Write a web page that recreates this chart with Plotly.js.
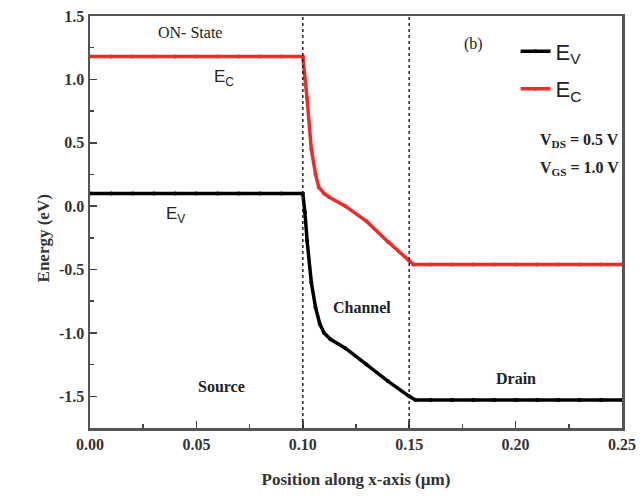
<!DOCTYPE html>
<html><head><meta charset="utf-8">
<script src="https://cdn.plot.ly/plotly-3.0.1.min.js"></script>
<style>body{margin:0;background:#fff}</style>
</head><body><div id="plot" style="width:643px;height:497px"></div>
<script>
// Conduction band E_C (eV) vs position (µm)
const ecX = [0.000, 0.010, 0.020, 0.030, 0.040, 0.050, 0.060, 0.070, 0.080, 0.090, 0.100, 0.102, 0.104, 0.106, 0.1075, 0.110, 0.1125, 0.120, 0.130, 0.140, 0.150, 0.152, 0.160, 0.170, 0.180, 0.190, 0.200, 0.210, 0.220, 0.230, 0.240, 0.250];
const ecY = [1.18, 1.18, 1.18, 1.18, 1.18, 1.18, 1.18, 1.18, 1.18, 1.18, 1.18, 0.85, 0.45, 0.25, 0.15, 0.10, 0.07, 0.00, -0.12, -0.28, -0.43, -0.46, -0.46, -0.46, -0.46, -0.46, -0.46, -0.46, -0.46, -0.46, -0.46, -0.46];
// Valence band E_V
const evX = [0.000, 0.010, 0.020, 0.030, 0.040, 0.050, 0.060, 0.070, 0.080, 0.090, 0.100, 0.101, 0.102, 0.104, 0.106, 0.108, 0.110, 0.113, 0.120, 0.130, 0.140, 0.150, 0.153, 0.160, 0.170, 0.180, 0.190, 0.200, 0.210, 0.220, 0.230, 0.240, 0.250];
const evY = [0.10, 0.10, 0.10, 0.10, 0.10, 0.10, 0.10, 0.10, 0.10, 0.10, 0.10, -0.05, -0.27, -0.60, -0.80, -0.93, -1.00, -1.05, -1.12, -1.25, -1.38, -1.50, -1.53, -1.53, -1.53, -1.53, -1.53, -1.53, -1.53, -1.53, -1.53, -1.53, -1.53];
const regionBounds = [0.10, 0.15];
const xTicks = [0.00, 0.05, 0.10, 0.15, 0.20, 0.25];
const yTicks = [-1.5, -1.0, -0.5, 0.0, 0.5, 1.0, 1.5];

const serif = 'Liberation Serif, Times New Roman, serif';
const sans = 'Liberation Sans, Arial, sans-serif';
const traces = [
  {x: evX, y: evY, name: 'E<sub>V</sub>', legendgroup: 'v', mode: 'lines+markers', line: {color: '#000', width: 3.5}, marker: {color: '#000', size: 4}},
  {x: ecX, y: ecY, name: 'E<sub>C</sub>', legendgroup: 'c', mode: 'lines+markers', line: {color: '#ee2a2a', width: 3.5}, marker: {color: '#ee2a2a', size: 4}}
];
const shapes = regionBounds.map(v => ({type: 'line', xref: 'x', yref: 'paper', x0: v, x1: v, y0: 0, y1: 1, line: {color: '#222', width: 1.5, dash: 'dot'}}));
const ann = (x, y, text, size, extra) => Object.assign({x, y, xref: 'x', yref: 'y', text, showarrow: false, font: {family: serif, size: size || 15, color: '#222'}}, extra || {});
const layout = {
  width: 643, height: 497,
  margin: {l: 90, r: 21, t: 16, b: 69},
  paper_bgcolor: '#fff', plot_bgcolor: '#fff',
  showlegend: true,
  legend: {x: 0.80, y: 0.965, xanchor: 'left', yanchor: 'top', font: {family: sans, size: 22, color: '#222'}, bgcolor: 'rgba(0,0,0,0)', itemwidth: 30, tracegroupgap: 6},
  xaxis: {range: [0, 0.25], tickvals: xTicks, ticktext: xTicks.map(v => v.toFixed(2)), ticks: 'inside', ticklen: 7, tickwidth: 1.5, tickcolor: '#444',
    minor: {ticks: 'inside', dtick: 0.025, ticklen: 4, tickcolor: '#444'},
    showline: true, linecolor: '#555', linewidth: 2.5, mirror: true, showgrid: false, zeroline: false,
    tickfont: {family: serif, size: 16, color: '#333', weight: 'bold'},
    title: {text: '<b>Position along x-axis (µm)</b>', font: {family: serif, size: 17, color: '#333'}, standoff: 22}},
  yaxis: {range: [-1.75, 1.5], tickvals: yTicks, ticktext: yTicks.map(v => v === 0 ? '0.0' : (v < 0 ? '-' + Math.abs(v).toFixed(1) : v.toFixed(1))), ticks: 'inside', ticklen: 7, tickwidth: 1.5, tickcolor: '#444',
    minor: {ticks: 'inside', dtick: 0.25, ticklen: 4, tickcolor: '#444'},
    showline: true, linecolor: '#555', linewidth: 2.5, mirror: true, showgrid: false, zeroline: false,
    tickfont: {family: serif, size: 16, color: '#333', weight: 'bold'}},
  shapes: shapes,
  annotations: [
    {xref: 'paper', yref: 'paper', x: -0.11, y: 0.46, text: '<b>Energy (eV)</b>', textangle: -90, showarrow: false, font: {family: serif, size: 17, color: '#333'}},
    ann(0.047, 1.37, 'ON- State', 16),
    ann(0.180, 1.28, '(b)', 16),
    ann(0.063, 1.01, 'E<sub>C</sub>', 17, {font: {family: sans, size: 17, color: '#222'}}),
    ann(0.040, -0.07, 'E<sub>V</sub>', 17, {font: {family: sans, size: 17, color: '#222'}}),
    ann(0.128, -0.80, '<b>Channel</b>', 16),
    ann(0.062, -1.42, '<b>Source</b>', 16),
    ann(0.200, -1.36, '<b>Drain</b>', 16),
    ann(0.2495, 0.52, '<b>V<sub>DS</sub> = 0.5 V</b>', 16, {xanchor: 'right'}),
    ann(0.2495, 0.30, '<b>V<sub>GS</sub> = 1.0 V</b>', 16, {xanchor: 'right'})
  ]
};
Plotly.newPlot('plot', traces, layout, {displayModeBar: false, staticPlot: true});
</script></body></html>
